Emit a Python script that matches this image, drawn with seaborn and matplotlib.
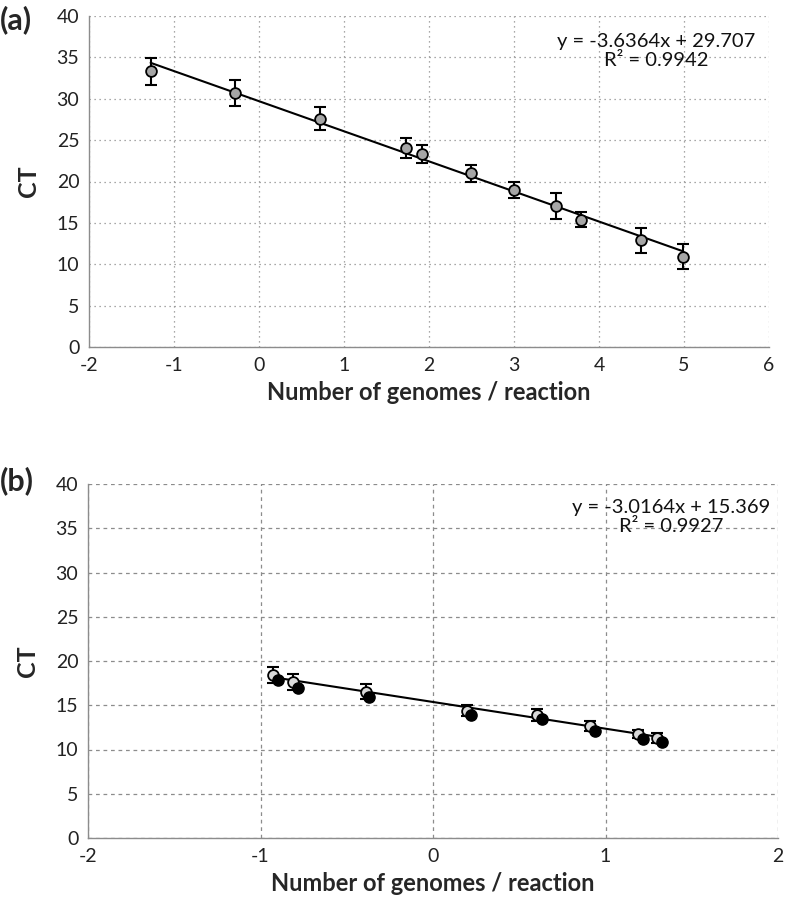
import numpy as np
import pandas as pd
import matplotlib
matplotlib.use("Agg")
import matplotlib.pyplot as plt
import seaborn as sns

# panel (a) standard curve
a_x = [-1.275, -0.28, 0.72, 1.725, 1.92, 2.49, 2.995, 3.495, 3.79, 4.49, 4.99]
a_ct = [33.3, 30.7, 27.6, 24.1, 23.3, 21.0, 19.0, 17.0, 15.4, 12.9, 10.9]
a_err = [1.65, 1.55, 1.35, 1.2, 1.1, 1.05, 0.95, 1.55, 0.95, 1.5, 1.5]
a_slope, a_icpt, a_r2 = -3.6364, 29.707, 0.9942

# panel (b) two series
b_x_open = [-0.93, -0.81, -0.39, 0.195, 0.60, 0.91, 1.19, 1.30]
b_ct_open = [18.4, 17.6, 16.5, 14.4, 13.9, 12.7, 11.8, 11.3]
b_err_open = [0.9, 0.9, 0.85, 0.66, 0.7, 0.56, 0.45, 0.55]
b_x_fill = [-0.90, -0.78, -0.37, 0.22, 0.63, 0.94, 1.22, 1.33]
b_ct_fill = [17.85, 17.0, 15.9, 13.9, 13.4, 12.1, 11.2, 10.8]
b_slope, b_icpt, b_r2 = -3.0164, 15.369, 0.9927

sns.set_theme(style="white")
plt.rcParams['font.family'] = ['Lato', 'DejaVu Sans']
plt.rcParams['axes.unicode_minus'] = False

fig = plt.figure(figsize=(7.86, 9.07), dpi=100)
ax1 = fig.add_axes([89/786, 1-347/907, 680/786, 331/907])
ax2 = fig.add_axes([88/786, 1-838/907, 690/786, 354/907])


def style_axes(ax, xlim, ls):
    ax.set_xlim(*xlim)
    ax.set_ylim(0, 40)
    ax.set_xticks(np.arange(xlim[0], xlim[1] + 1, 1))
    ax.set_yticks(np.arange(0, 41, 5))
    ax.grid(True, color='#8c8c8c', linestyle=ls, linewidth=0.9)
    ax.set_axisbelow(True)
    for s in ['top', 'right']:
        ax.spines[s].set_visible(False)
    for s in ['left', 'bottom']:
        ax.spines[s].set_color('#8c8c8c')
        ax.spines[s].set_linewidth(1.0)
    ax.tick_params(length=0, labelsize=14, pad=7, colors='#222222')
    ax.set_xlabel('Number of genomes / reaction', fontsize=17, fontweight='bold', labelpad=5)
    ax.set_ylabel('CT', fontsize=18, fontweight='bold', labelpad=12)


style_axes(ax1, (-2, 6), (0, (1, 3)))
style_axes(ax2, (-2, 2), (0, (3, 3)))

# (a)
dfa = pd.DataFrame({'x': a_x, 'ct': a_ct})
xa = np.array([min(a_x), max(a_x)])
sns.lineplot(x=xa, y=a_slope * xa + a_icpt, ax=ax1, color='black', linewidth=1.5, zorder=3)
ax1.errorbar(a_x, a_ct, yerr=a_err, fmt='none', ecolor='black', elinewidth=1.5,
             capsize=4, capthick=1.5, zorder=4)
sns.scatterplot(data=dfa, x='x', y='ct', ax=ax1, s=60, color='#a6a6a6',
                edgecolor='black', linewidth=1.3, zorder=5)
ax1.text(0.834, 0.895, f'y = {a_slope}x + {a_icpt}\nR² = {a_r2}', transform=ax1.transAxes,
         ha='center', va='center', fontsize=14.5, linespacing=1.15, color='#111111')

# (b)
dfo = pd.DataFrame({'x': b_x_open, 'ct': b_ct_open})
dff = pd.DataFrame({'x': b_x_fill, 'ct': b_ct_fill})
xb = np.array([min(b_x_open), max(b_x_fill)])
sns.lineplot(x=xb, y=b_slope * xb + b_icpt, ax=ax2, color='black', linewidth=1.5, zorder=3)
ax2.errorbar(b_x_open, b_ct_open, yerr=b_err_open, fmt='none', ecolor='black', elinewidth=1.5,
             capsize=4, capthick=1.5, zorder=4)
sns.scatterplot(data=dfo, x='x', y='ct', ax=ax2, s=60, color='#d9d9d9',
                edgecolor='black', linewidth=1.3, zorder=5)
sns.scatterplot(data=dff, x='x', y='ct', ax=ax2, s=65, color='black',
                edgecolor='black', linewidth=1.0, zorder=6)
ax2.text(0.845, 0.908, f'y = {b_slope}x + {b_icpt}\nR² = {b_r2}', transform=ax2.transAxes,
         ha='center', va='center', fontsize=14.5, linespacing=1.15, color='#111111')

fig.text(0.0, 1-20/907, '(a)', fontsize=22, fontweight='bold', ha='left', va='center')
fig.text(0.0, 1-481/907, '(b)', fontsize=22, fontweight='bold', ha='left', va='center')

fig.savefig('out.png', dpi=100)
